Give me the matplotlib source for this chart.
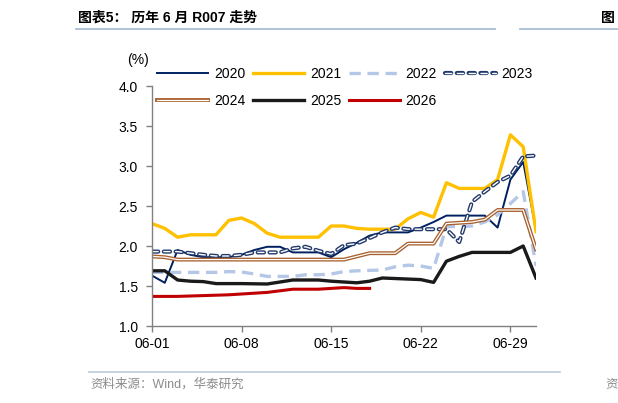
import matplotlib
matplotlib.use("Agg")
import matplotlib.pyplot as plt
import matplotlib.patheffects as pe
from matplotlib.lines import Line2D

plt.rcParams['font.family'] = ['Liberation Sans', 'Noto Sans CJK SC', 'DejaVu Sans']

# ---- data (day of June; values in %) ----
d2020 = [1, 2, 3, 4, 5, 7, 8, 9, 10, 11, 12, 14, 15, 16, 17, 18, 19, 21, 22, 23, 24, 27, 28, 29, 30, 31]
v2020 = [1.63, 1.54, 1.95, 1.89, 1.86, 1.86, 1.89, 1.95, 1.99, 1.99, 1.92, 1.92, 1.86, 1.96, 2.04, 2.13, 2.17, 2.17, 2.23, 2.30, 2.38, 2.38, 2.23, 2.83, 3.05, 2.20]

d2021 = [1, 2, 3, 4, 6, 7, 8, 9, 10, 11, 14, 15, 16, 17, 18, 20, 21, 22, 23, 24, 25, 27, 28, 29, 30, 31]
v2021 = [2.28, 2.22, 2.11, 2.14, 2.14, 2.32, 2.35, 2.28, 2.16, 2.11, 2.11, 2.25, 2.25, 2.22, 2.21, 2.21, 2.34, 2.42, 2.36, 2.79, 2.72, 2.72, 2.83, 3.39, 3.24, 2.18]

d2022 = [1, 2, 6, 7, 8, 9, 10, 12, 13, 14, 15, 16, 17, 19, 20, 21, 22, 23, 24, 26, 27, 28, 29, 30, 31]
v2022 = [1.67, 1.67, 1.67, 1.68, 1.675, 1.65, 1.62, 1.62, 1.64, 1.64, 1.65, 1.68, 1.69, 1.70, 1.74, 1.76, 1.75, 1.72, 2.24, 2.25, 2.30, 2.39, 2.53, 2.68, 1.75]

d2023 = [1, 3, 4, 5, 6, 7, 8, 9, 11, 12, 13, 14, 15, 16, 17, 18, 19, 20, 21, 24, 25, 26, 27, 28, 29, 30, 31]
v2023 = [1.93, 1.93, 1.91, 1.89, 1.875, 1.875, 1.89, 1.92, 1.92, 1.97, 1.99, 1.94, 1.90, 2.01, 2.03, 2.10, 2.17, 2.23, 2.21, 2.21, 2.05, 2.55, 2.68, 2.80, 2.88, 3.12, 3.13]

d2024 = [1, 2, 3, 16, 17, 18, 20, 21, 23, 24, 25, 26, 27, 28, 30, 31]
v2024 = [1.87, 1.86, 1.83, 1.83, 1.87, 1.91, 1.91, 2.03, 2.03, 2.28, 2.29, 2.30, 2.33, 2.45, 2.45, 1.96]

d2025 = [1, 2, 3, 4, 5, 6, 8, 10, 11, 12, 14, 15, 16, 17, 18, 19, 22, 23, 24, 25, 26, 29, 30, 31]
v2025 = [1.69, 1.69, 1.575, 1.56, 1.555, 1.53, 1.53, 1.525, 1.55, 1.575, 1.575, 1.56, 1.55, 1.54, 1.56, 1.60, 1.58, 1.545, 1.81, 1.87, 1.92, 1.92, 2.00, 1.60]

d2026 = [1, 3, 5, 7, 8, 10, 11, 12, 14, 15, 16, 17, 18]
v2026 = [1.37, 1.37, 1.38, 1.39, 1.40, 1.42, 1.44, 1.46, 1.46, 1.47, 1.48, 1.47, 1.47]

xtick_days = [1, 8, 15, 22, 29]
xtick_labels = ['06-01', '06-08', '06-15', '06-22', '06-29']
yticks = [1.0, 1.5, 2.0, 2.5, 3.0, 3.5, 4.0]

W, H = 618, 403
fig = plt.figure(figsize=(W / 100, H / 100), dpi=100)
ax = fig.add_axes([152 / W, 1 - 326 / H, (536 - 152) / W, (326 - 86) / H])

navy = '#002060'
l20, = ax.plot(d2020, v2020, color=navy, lw=1.4, label='2020')
l21, = ax.plot(d2021, v2021, color='#FFC000', lw=2.4, label='2021')
l22, = ax.plot(d2022, v2022, color='#B4C7E7', lw=2.4, dashes=(3.4, 2.0), label='2022')
l23, = ax.plot(d2023, v2023, color='white', lw=1.0, dashes=(4.5, 4.0), label='2023',
               dash_capstyle='round',
               path_effects=[pe.Stroke(linewidth=3.0, foreground='#223A6B'), pe.Normal()])
l24, = ax.plot(d2024, v2024, color='white', lw=0.9, label='2024',
               path_effects=[pe.Stroke(linewidth=2.8, foreground='#A8602E'), pe.Normal()])
l25, = ax.plot(d2025, v2025, color='#1A1A1A', lw=2.4, label='2025')
l26, = ax.plot(d2026, v2026, color='#C00000', lw=2.2, label='2026')

ax.set_xlim(1, 31)
ax.set_ylim(1.0, 4.0)
ax.set_xticks(xtick_days)
ax.set_xticklabels(xtick_labels)
ax.set_yticks(yticks)
ax.set_yticklabels([f'{y:.1f}' for y in yticks])
for s in ['top', 'right']:
    ax.spines[s].set_visible(False)
for s in ['left', 'bottom']:
    ax.spines[s].set_color('#808080')
    ax.spines[s].set_linewidth(1.0)
ax.tick_params(axis='both', direction='out', length=4, width=1.0, color='#808080',
               labelsize=10, labelcolor='black', pad=4)
ax.tick_params(axis='y', pad=6)

handles = [l20, l24, l21, l25, l22, l26, l23]
fig.legend(handles=handles, labels=[h.get_label() for h in handles], ncol=4,
           loc='upper left', bbox_to_anchor=(157 / W, 1 - 67 / H), frameon=False,
           fontsize=10, handlelength=3.7, handletextpad=0.4, columnspacing=0.55,
           labelspacing=0.95, borderpad=0, borderaxespad=0)

fig.text(138 / W, 1 - 60 / H, '(%)', fontsize=10, ha='center', va='center')

# title & rules
fig.text(78 / W, 1 - 18 / H, '图表5： 历年 6 月 R007 走势', fontsize=10, fontweight='bold',
         ha='left', va='center')
fig.text(601 / W, 1 - 18 / H, '图', fontsize=10, fontweight='bold', ha='left', va='center')
fig.add_artist(Line2D([76 / W, 495 / W], [1 - 28.5 / H] * 2, color='#A9BCD6', lw=1.3))
fig.add_artist(Line2D([520 / W, 1.0], [1 - 28.5 / H] * 2, color='#A9BCD6', lw=1.3))
fig.add_artist(Line2D([89 / W, 560 / W], [1 - 372 / H] * 2, color='#C3CFDF', lw=1.3))
fig.text(90 / W, 1 - 384 / H, '资料来源：Wind，华泰研究', fontsize=9, color='#8C8C8C',
         ha='left', va='center')
fig.text(605 / W, 1 - 384 / H, '资', fontsize=9, color='#8C8C8C', ha='left', va='center')

fig.savefig('out.png', dpi=100)
